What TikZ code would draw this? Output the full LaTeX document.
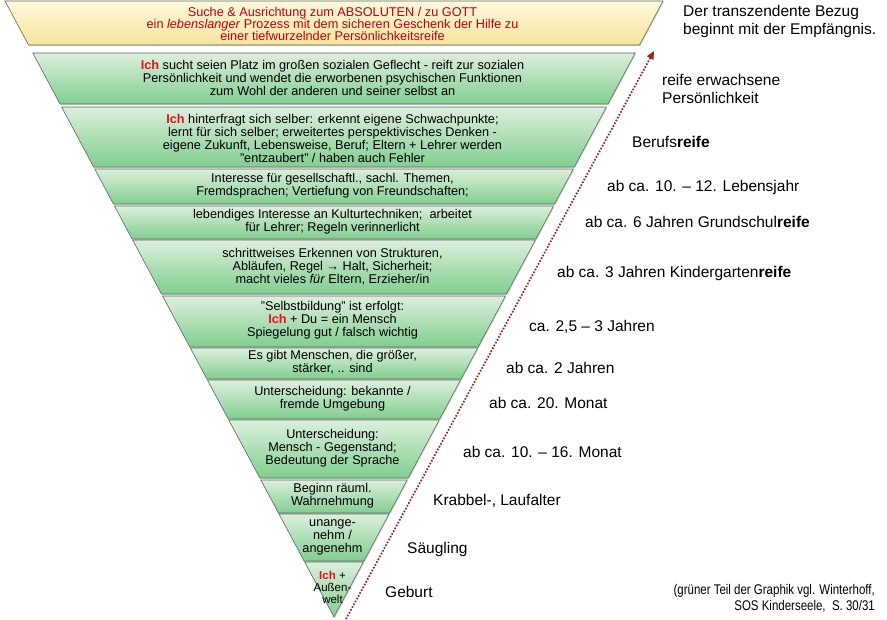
\documentclass[tikz,border=0pt]{standalone}
\usepackage{fontspec}
\setmainfont{Liberation Sans}
\newfontfamily\narrowfont[FakeStretch=0.82]{Liberation Sans}
\usetikzlibrary{arrows.meta,shadows}
\definecolor{bandtop}{HTML}{DCEFDC}
\definecolor{bandbot}{HTML}{80CE8F}
\definecolor{yeltop}{HTML}{FDF8DA}
\definecolor{yelbot}{HTML}{F6E59C}
\definecolor{edgegray}{HTML}{5F6B5F}
\definecolor{ichred}{HTML}{E8101E}
\definecolor{godred}{HTML}{C00018}
\definecolor{arrowred}{HTML}{9A1E1E}
\newcommand{\ich}{\textcolor{ichred}{\textbf{Ich}}}
% #1 top y, #2 bottom y, #3 style
\newcommand{\bandshape}[3]{%
  \path[#3] ({334-0.5341*(617-#1)},#1) -- ({334+0.5341*(617-#1)},#1)
    -- ({334+0.5341*(617-#2)},#2) -- ({334-0.5341*(617-#2)},#2) -- cycle;}
\begin{document}
\begin{tikzpicture}[x=1pt,y=-1pt,
  greenband/.style={top color=bandtop, bottom color=bandbot, draw=edgegray, line width=0.6pt,
    drop shadow={opacity=0.3, shadow xshift=0.8pt, shadow yshift=-1.2pt}},
  yellowband/.style={top color=yeltop, bottom color=yelbot, draw=edgegray, line width=0.6pt,
    drop shadow={opacity=0.3, shadow xshift=0.8pt, shadow yshift=-1.2pt}},
  bandtext/.style={align=center, font=\fontsize{12.7}{13}\selectfont, inner sep=0pt},
  smalltext/.style={align=center, font=\fontsize{11.5}{12}\selectfont, inner sep=0pt},
  lbl/.style={anchor=west, font=\fontsize{15.5}{18.5}\selectfont, inner sep=0pt, align=left},
  note/.style={anchor=east, font=\narrowfont\fontsize{14}{15.5}\selectfont, inner sep=0pt, align=right},
  arrowline/.style={arrowred, line width=1.7pt, dash pattern=on 1.6pt off 1.6pt,
    -{Triangle[length=8pt,width=7pt]}}]
\useasboundingbox (0,0) rectangle (887,620);
\fill[white] (0,0) rectangle (887,620);

% bands
\bandshape{1}{45}{yellowband}
\bandshape{53}{104}{greenband}
\bandshape{107}{167}{greenband}
\bandshape{169}{204}{greenband}
\bandshape{206}{239}{greenband}
\bandshape{240}{294}{greenband}
\bandshape{296}{347}{greenband}
\bandshape{348}{379}{greenband}
\bandshape{380}{419}{greenband}
\bandshape{420}{478}{greenband}
\bandshape{480}{513}{greenband}
\bandshape{514}{561}{greenband}
\bandshape{562}{617}{greenband}

% band texts
\node[bandtext, font=\fontsize{12.7}{12}\selectfont, text=godred] (t0) at (332.5,24)
  {Suche \& Ausrichtung zum ABSOLUTEN / zu GOTT\\ein \textit{lebenslanger} Prozess mit dem sicheren Geschenk der Hilfe zu\\einer tiefwurzelnder Persönlichkeitsreife};
\node[bandtext] (t1) at (332.5,78)
  {\ich{} sucht seien Platz im großen sozialen Geflecht - reift zur sozialen\\Persönlichkeit und wendet die erworbenen psychischen Funktionen\\zum Wohl der anderen und seiner selbst an};
\node[bandtext] (t2) at (332.5,138)
  {\ich{} hinterfragt sich selber: erkennt eigene Schwachpunkte;\\lernt für sich selber; erweitertes perspektivisches Denken -\\eigene Zukunft, Lebensweise, Beruf; Eltern + Lehrer werden\\"entzaubert" / haben auch Fehler};
\node[bandtext] (t3) at (332.5,186)
  {Interesse für gesellschaftl., sachl. Themen,\\Fremdsprachen; Vertiefung von Freundschaften;};
\node[bandtext] (t4) at (332.5,222)
  {lebendiges Interesse an Kulturtechniken;\ \ arbeitet\\für Lehrer; Regeln verinnerlicht};
\node[bandtext] (t5) at (332.5,267)
  {schrittweises Erkennen von Strukturen,\\Abläufen, Regel → Halt, Sicherheit;\\macht vieles \textit{für} Eltern, Erzieher/in};
\node[bandtext] (t6) at (332.5,320)
  {"Selbstbildung" ist erfolgt:\\\ich{} + Du = ein Mensch\\Spiegelung gut / falsch wichtig};
\node[bandtext] (t7) at (332.5,362.5)
  {Es gibt Menschen, die größer,\\stärker, .. sind};
\node[bandtext] (t8) at (332.5,399)
  {Unterscheidung: bekannte /\\fremde Umgebung};
\node[bandtext] (t9) at (332.5,448)
  {Unterscheidung:\\Mensch - Gegenstand;\\Bedeutung der Sprache};
\node[bandtext] (t10) at (332.5,496)
  {Beginn räuml.\\Wahrnehmung};
\node[bandtext] (t11) at (332.5,537.5)
  {unange-\\nehm /\\angenehm};
\node[smalltext] (t12) at (332.5,587)
  {\ich{} +\\Außen-\\welt};

% dotted arrow
\coordinate (arrS) at (346,619);
\coordinate (arrE) at (654,51);
\draw[arrowline] (arrS) -- (arrE);

% right labels
\node[lbl] (l0) at (683,21.5) {Der transzendente Bezug\\beginnt mit der Empfängnis.};
\node[lbl] (l1) at (662,89) {reife erwachsene\\Persönlichkeit};
\node[lbl] (l2) at (632,142) {Berufs\textbf{reife}};
\node[lbl] (l3) at (607,187) {ab ca. 10. – 12. Lebensjahr};
\node[lbl] (l4) at (585,222) {ab ca. 6 Jahren Grundschul\textbf{reife}};
\node[lbl] (l5) at (557,273) {ab ca. 3 Jahren Kindergarten\textbf{reife}};
\node[lbl] (l6) at (529,327) {ca. 2,5 – 3 Jahren};
\node[lbl] (l7) at (506,368) {ab ca. 2 Jahren};
\node[lbl] (l8) at (489,403) {ab ca. 20. Monat};
\node[lbl] (l9) at (463,452) {ab ca. 10. – 16. Monat};
\node[lbl] (l10) at (433,501) {Krabbel-, Laufalter};
\node[lbl] (l11) at (407,549) {Säugling};
\node[lbl] (l12) at (385,592) {Geburt};
\node[note] (n0) at (875,598.5) {(grüner Teil der Graphik vgl. Winterhoff,\\SOS Kinderseele,\ \ S. 30/31};
\end{tikzpicture}
\end{document}
